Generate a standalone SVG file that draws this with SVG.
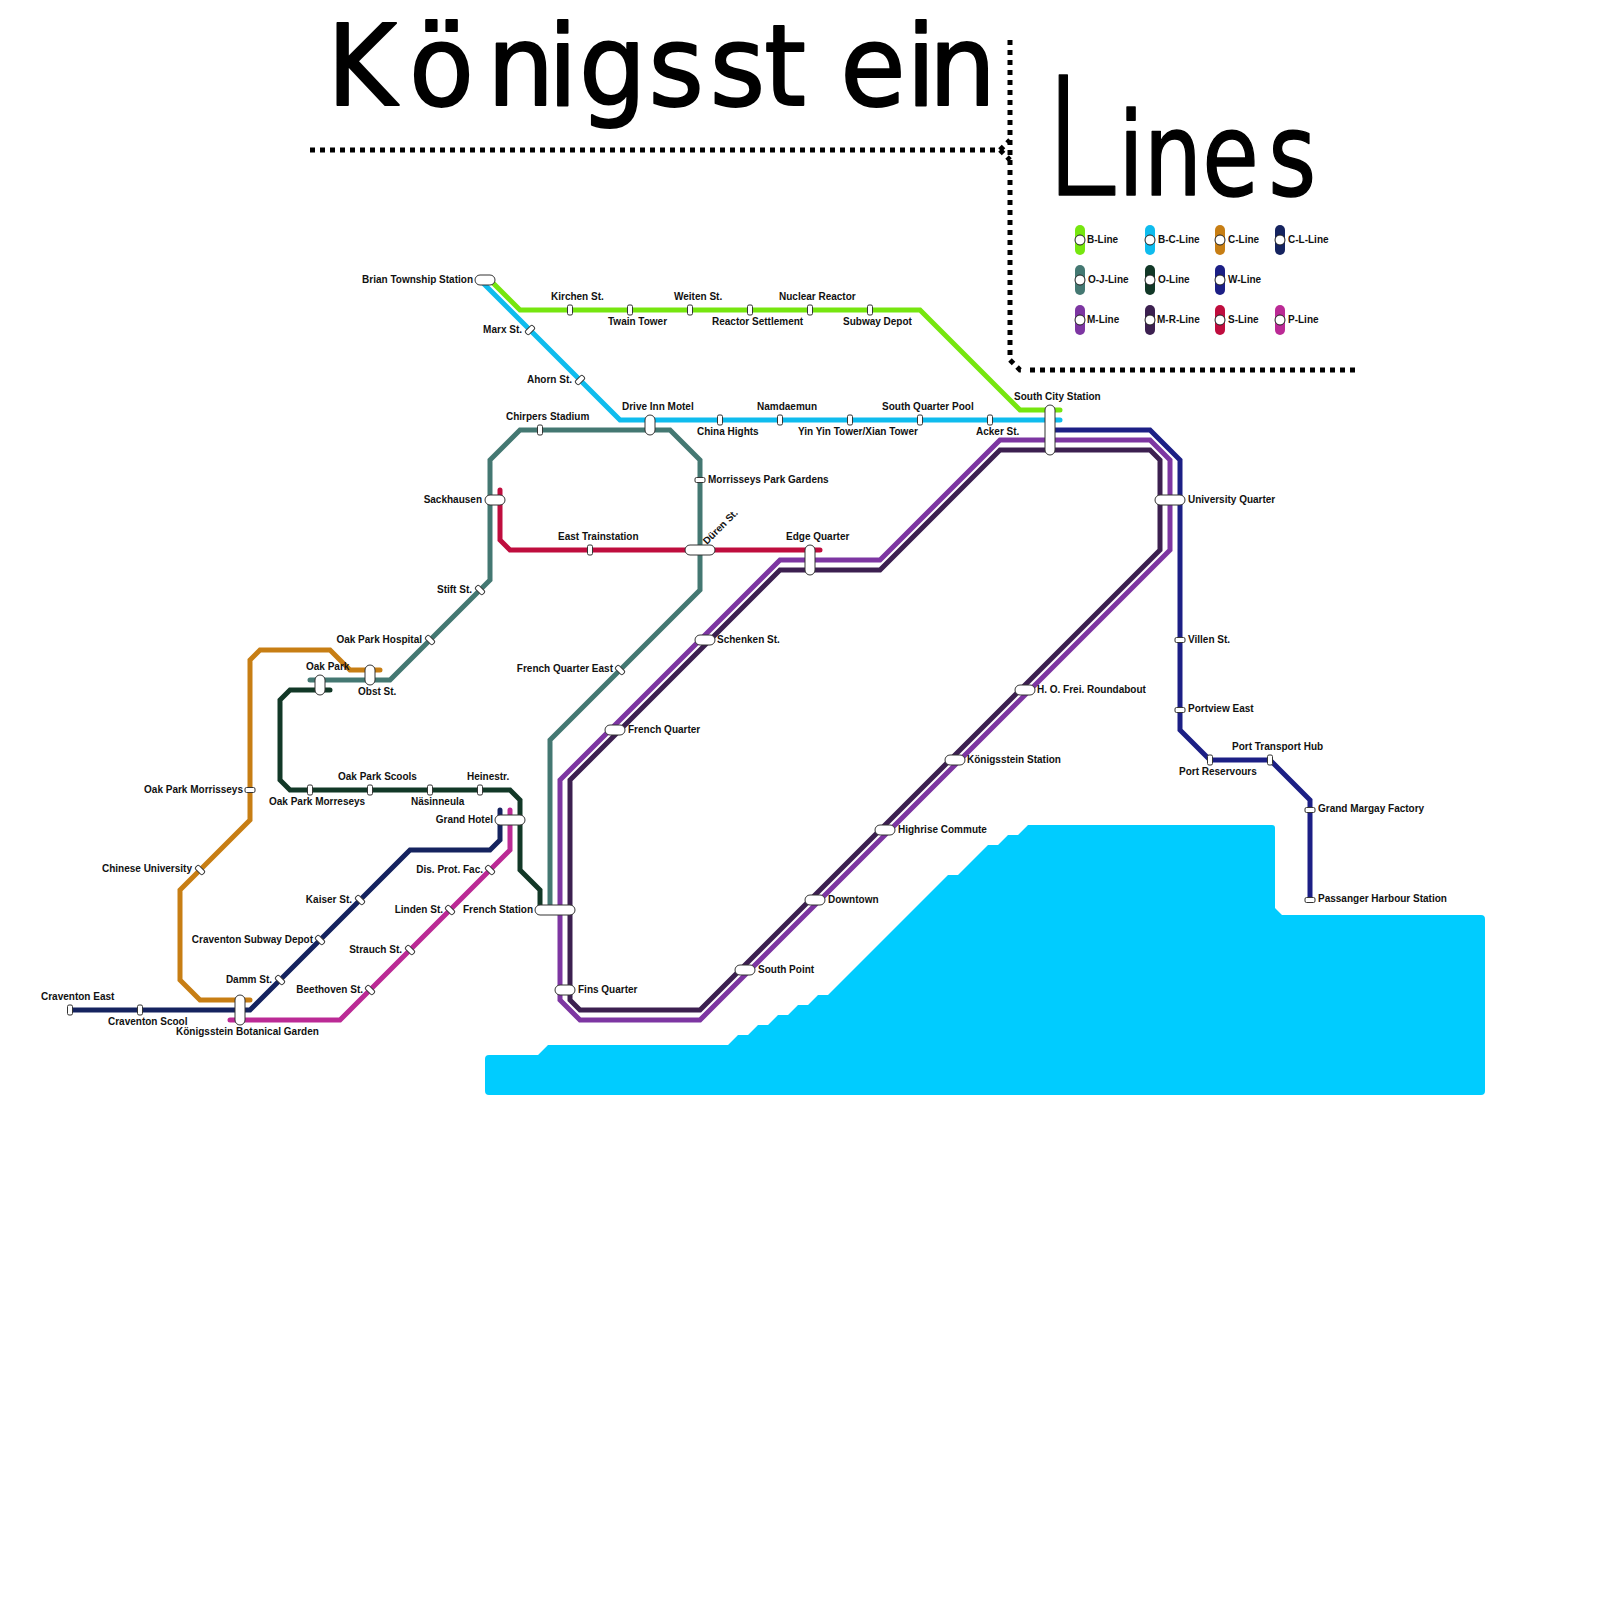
<svg xmlns="http://www.w3.org/2000/svg" width="1600" height="1600" viewBox="0 0 1600 1600">
<style>
.t{font-family:"DejaVu Sans",sans-serif;fill:#000}
.l{font-family:"Liberation Sans",Arial,sans-serif;font-size:10px;font-weight:700;fill:#111}
.e{text-anchor:end}
.line{fill:none;stroke-width:5;stroke-linecap:round;stroke-linejoin:miter}
.c,.s{fill:#fff;stroke:#333;stroke-width:1}
.k{fill:#fff;stroke:#222;stroke-width:1}
.d{fill:none;stroke:#000;stroke-width:5;stroke-dasharray:5 5}
</style>
<defs>
<rect id="sv" class="s" x="-2.5" y="-5" width="5" height="10" rx="1.5"/>
<rect id="sh" class="s" x="-5" y="-2.5" width="10" height="5" rx="1.5"/>
</defs>
<path id="water" fill="#00ccff" d="M489,1055H538L548,1045H728L738,1035H748L758,1025H768L778,1015H788L798,1005H808L818,995H828L948,875H958L988,845H998L1008,835H1018L1028,825H1272Q1275,825 1275,828V908L1282,915H1481Q1485,915 1485,919V1091Q1485,1095 1481,1095H489Q485,1095 485,1091V1059Q485,1055 489,1055Z"/>
<g id="title">
<text class="t" font-size="113" stroke="#000" stroke-width="2" stroke-linejoin="round" transform="translate(0 105) scale(.94 1)" x="348 435 518 583 616 690 755 813 894 964 988" y="0">Königsstein</text>
<text class="t" stroke="#000" stroke-width="1.5" stroke-linejoin="round" transform="translate(1047 195) scale(.8 1)"><tspan font-family="Roboto,sans-serif" font-weight="300" font-size="169">L</tspan><tspan font-size="115">ine</tspan><tspan font-size="115" dx="12">s</tspan></text>
</g>
<g id="dots">
<path class="d" d="M310,150H1000L1010,140"/>
<path class="d" d="M1000,150L1010,160"/>
<path class="d" d="M1010,40V360L1020,370H1021"/>
<path class="d" d="M1030,370H1355"/>
</g>
<g id="connectors">
<path id="l-b" class="line" stroke="#76e60f" d="M490,280L520,310H920L1020,410H1060"/>
<path id="l-bc" class="line" stroke="#0fbcee" d="M480,280L620,420H1060"/>
<path id="l-oj" class="line" stroke="#447872" d="M550,910V740L700,590V460L670,430H520L490,460V580L390,680H310"/>
<path id="l-c" class="line" stroke="#c77e14" d="M250,1000H200L180,980V890L250,820V660L260,650H330L350,670H380"/>
<path id="l-o" class="line" stroke="#123827" d="M330,690H290L280,700V780L290,790H510L520,800V870L540,890V910"/>
<path id="l-cl" class="line" stroke="#15235f" d="M70,1010H250L410,850H490L500,840V810"/>
<path id="l-p" class="line" stroke="#bb2a95" d="M230,1020H340L510,850V810"/>
<path id="l-s" class="line" stroke="#bf0d3e" d="M500,490V540L510,550H820"/>
<path id="l-w" class="line" stroke="#1c1f85" d="M1050,430H1150L1180,460V730L1210,760H1270L1310,800V900"/>
<path id="l-m" class="line" stroke="#7d36a2" d="M560,780L780,560H880L1000,440H1150L1170,460V550L700,1020H580L560,1000Z"/>
<path id="l-mr" class="line" stroke="#3c2050" d="M570,780L780,570H880L1000,450H1150L1160,460V550L700,1010H580L570,1000Z"/>
</g>
<g id="n-brian"><rect class="c" x="475" y="275" width="20" height="10" rx="5"/><text class="l e" x="473" y="283">Brian Township Station</text></g>
<g id="n-kirchen"><use href="#sv" x="570" y="310"/><text class="l" x="551" y="300">Kirchen St.</text></g>
<g id="n-twain"><use href="#sv" x="630" y="310"/><text class="l" x="608" y="325">Twain Tower</text></g>
<g id="n-weiten"><use href="#sv" x="690" y="310"/><text class="l" x="674" y="300">Weiten St.</text></g>
<g id="n-reactor"><use href="#sv" x="750" y="310"/><text class="l" x="712" y="325">Reactor Settlement</text></g>
<g id="n-nuclear"><use href="#sv" x="810" y="310"/><text class="l" x="779" y="300">Nuclear Reactor</text></g>
<g id="n-subway"><use href="#sv" x="870" y="310"/><text class="l" x="843" y="325">Subway Depot</text></g>
<g id="n-marx"><use href="#sv" transform="translate(530 330) rotate(45)"/><text class="l e" x="522" y="333">Marx St.</text></g>
<g id="n-ahorn"><use href="#sv" transform="translate(580 380) rotate(45)"/><text class="l e" x="572" y="383">Ahorn St.</text></g>
<g id="n-driveinn"><rect class="c" x="645" y="415" width="10" height="20" rx="5"/><text class="l" x="622" y="410">Drive Inn Motel</text></g>
<g id="n-chirpers"><use href="#sv" x="540" y="430"/><text class="l" x="506" y="420">Chirpers Stadium</text></g>
<g id="n-china"><use href="#sv" x="720" y="420"/><text class="l" x="697" y="435">China Hights</text></g>
<g id="n-namdaemun"><use href="#sv" x="780" y="420"/><text class="l" x="757" y="410">Namdaemun</text></g>
<g id="n-yinyin"><use href="#sv" x="850" y="420"/><text class="l" x="798" y="435">Yin Yin Tower/Xian Tower</text></g>
<g id="n-southquarter"><use href="#sv" x="920" y="420"/><text class="l" x="882" y="410">South Quarter Pool</text></g>
<g id="n-acker"><use href="#sv" x="990" y="420"/><text class="l" x="976" y="435">Acker St.</text></g>
<g id="n-southcity"><rect class="c" x="1045" y="405" width="10" height="50" rx="5"/><text class="l" x="1014" y="400">South City Station</text></g>
<g id="n-morrisseys"><use href="#sh" x="700" y="480"/><text class="l" x="708" y="483">Morrisseys Park Gardens</text></g>
<g id="n-sackhausen"><rect class="c" x="485" y="495" width="20" height="10" rx="5"/><text class="l e" x="482" y="503">Sackhausen</text></g>
<g id="n-east"><use href="#sv" x="590" y="550"/><text class="l" x="558" y="540">East Trainstation</text></g>
<g id="n-duren"><rect class="c" x="685" y="545" width="30" height="10" rx="5"/><text class="l" transform="translate(707 545) rotate(-45)">Düren St.</text></g>
<g id="n-edge"><rect class="c" x="805" y="545" width="10" height="30" rx="5"/><text class="l" x="786" y="540">Edge Quarter</text></g>
<g id="n-stift"><use href="#sv" transform="translate(480 590) rotate(-45)"/><text class="l e" x="472" y="593">Stift St.</text></g>
<g id="n-hospital"><use href="#sv" transform="translate(430 640) rotate(-45)"/><text class="l e" x="422" y="643">Oak Park Hospital</text></g>
<g id="n-oakpark"><rect class="c" x="315" y="675" width="10" height="20" rx="5"/><text class="l" x="306" y="670">Oak Park</text></g>
<g id="n-obst"><rect class="c" x="365" y="665" width="10" height="20" rx="5"/><text class="l" x="358" y="695">Obst St.</text></g>
<g id="n-fqeast"><use href="#sv" transform="translate(620 670) rotate(-45)"/><text class="l e" x="613" y="672">French Quarter East</text></g>
<g id="n-schenken"><rect class="c" x="695" y="635" width="20" height="10" rx="5"/><text class="l" x="717" y="643">Schenken St.</text></g>
<g id="n-fq"><rect class="c" x="605" y="725" width="20" height="10" rx="5"/><text class="l" x="628" y="733">French Quarter</text></g>
<g id="n-opm"><use href="#sh" x="250" y="790"/><text class="l e" x="243" y="793">Oak Park Morrisseys</text></g>
<g id="n-chinese"><use href="#sv" transform="translate(200 870) rotate(-45)"/><text class="l e" x="192" y="872">Chinese University</text></g>
<g id="n-morreseys"><use href="#sv" x="310" y="790"/><text class="l" x="269" y="805">Oak Park Morreseys</text></g>
<g id="n-scools"><use href="#sv" x="370" y="790"/><text class="l" x="338" y="780">Oak Park Scools</text></g>
<g id="n-nasinneula"><use href="#sv" x="430" y="790"/><text class="l" x="411" y="805">Näsinneula</text></g>
<g id="n-heinestr"><use href="#sv" x="480" y="790"/><text class="l" x="467" y="780">Heinestr.</text></g>
<g id="n-grandhotel"><rect class="c" x="495" y="815" width="30" height="10" rx="5"/><text class="l e" x="493" y="823">Grand Hotel</text></g>
<g id="n-disprot"><use href="#sv" transform="translate(490 870) rotate(-45)"/><text class="l e" x="483" y="873">Dis. Prot. Fac.</text></g>
<g id="n-linden"><use href="#sv" transform="translate(450 910) rotate(-45)"/><text class="l e" x="443" y="913">Linden St.</text></g>
<g id="n-strauch"><use href="#sv" transform="translate(410 950) rotate(-45)"/><text class="l e" x="402" y="953">Strauch St.</text></g>
<g id="n-beethoven"><use href="#sv" transform="translate(370 990) rotate(-45)"/><text class="l e" x="363" y="993">Beethoven St.</text></g>
<g id="n-kaiser"><use href="#sv" transform="translate(360 900) rotate(-45)"/><text class="l e" x="352" y="903">Kaiser St.</text></g>
<g id="n-depot"><use href="#sv" transform="translate(320 940) rotate(-45)"/><text class="l e" x="313" y="943">Craventon Subway Depot</text></g>
<g id="n-damm"><use href="#sv" transform="translate(280 980) rotate(-45)"/><text class="l e" x="272" y="983">Damm St.</text></g>
<g id="n-frenchst"><rect class="c" x="535" y="905" width="40" height="10" rx="5"/><text class="l e" x="533" y="913">French Station</text></g>
<g id="n-botanical"><rect class="c" x="235" y="995" width="10" height="30" rx="5"/><text class="l" x="176" y="1035">Königsstein Botanical Garden</text></g>
<g id="n-cravent"><use href="#sv" x="70" y="1010"/><text class="l" x="41" y="1000">Craventon East</text></g>
<g id="n-scool"><use href="#sv" x="140" y="1010"/><text class="l" x="108" y="1025">Craventon Scool</text></g>
<g id="n-fins"><rect class="c" x="555" y="985" width="20" height="10" rx="5"/><text class="l" x="578" y="993">Fins Quarter</text></g>
<g id="n-southpoint"><rect class="c" x="735" y="965" width="20" height="10" rx="5"/><text class="l" x="758" y="973">South Point</text></g>
<g id="n-downtown"><rect class="c" x="805" y="895" width="20" height="10" rx="5"/><text class="l" x="828" y="903">Downtown</text></g>
<g id="n-highrise"><rect class="c" x="875" y="825" width="20" height="10" rx="5"/><text class="l" x="898" y="833">Highrise Commute</text></g>
<g id="n-konigsst"><rect class="c" x="945" y="755" width="20" height="10" rx="5"/><text class="l" x="967" y="763">Königsstein Station</text></g>
<g id="n-hofrei"><rect class="c" x="1015" y="685" width="20" height="10" rx="5"/><text class="l" x="1037" y="693">H. O. Frei. Roundabout</text></g>
<g id="n-university"><rect class="c" x="1155" y="495" width="30" height="10" rx="5"/><text class="l" x="1188" y="503">University Quarter</text></g>
<g id="n-villen"><use href="#sh" x="1180" y="640"/><text class="l" x="1188" y="643">Villen St.</text></g>
<g id="n-portview"><use href="#sh" x="1180" y="710"/><text class="l" x="1188" y="712">Portview East</text></g>
<g id="n-portres"><use href="#sv" x="1210" y="760"/><text class="l" x="1179" y="775">Port Reservours</text></g>
<g id="n-porthub"><use href="#sv" x="1270" y="760"/><text class="l" x="1232" y="750">Port Transport Hub</text></g>
<g id="n-margay"><use href="#sh" x="1310" y="810"/><text class="l" x="1318" y="812">Grand Margay Factory</text></g>
<g id="n-passanger"><use href="#sh" x="1310" y="900"/><text class="l" x="1318" y="902">Passanger Harbour Station</text></g>
<g id="legend">
<g id="lg-b"><rect x="1075" y="225" width="10" height="30" rx="5" fill="#76e60f"/><circle class="k" cx="1080" cy="240" r="5"/><text class="l" x="1087" y="243">B-Line</text></g>
<g id="lg-bc"><rect x="1145" y="225" width="10" height="30" rx="5" fill="#0fbcee"/><circle class="k" cx="1150" cy="240" r="5"/><text class="l" x="1158" y="243">B-C-Line</text></g>
<g id="lg-c"><rect x="1215" y="225" width="10" height="30" rx="5" fill="#c77e14"/><circle class="k" cx="1220" cy="240" r="5"/><text class="l" x="1228" y="243">C-Line</text></g>
<g id="lg-cl"><rect x="1275" y="225" width="10" height="30" rx="5" fill="#15235f"/><circle class="k" cx="1280" cy="240" r="5"/><text class="l" x="1288" y="243">C-L-Line</text></g>
<g id="lg-oj"><rect x="1075" y="265" width="10" height="30" rx="5" fill="#447872"/><circle class="k" cx="1080" cy="280" r="5"/><text class="l" x="1088" y="283">O-J-Line</text></g>
<g id="lg-o"><rect x="1145" y="265" width="10" height="30" rx="5" fill="#123827"/><circle class="k" cx="1150" cy="280" r="5"/><text class="l" x="1158" y="283">O-Line</text></g>
<g id="lg-w"><rect x="1215" y="265" width="10" height="30" rx="5" fill="#1c1f85"/><circle class="k" cx="1220" cy="280" r="5"/><text class="l" x="1228" y="283">W-Line</text></g>
<g id="lg-m"><rect x="1075" y="305" width="10" height="30" rx="5" fill="#7d36a2"/><circle class="k" cx="1080" cy="320" r="5"/><text class="l" x="1087" y="323">M-Line</text></g>
<g id="lg-mr"><rect x="1145" y="305" width="10" height="30" rx="5" fill="#3c2050"/><circle class="k" cx="1150" cy="320" r="5"/><text class="l" x="1157" y="323">M-R-Line</text></g>
<g id="lg-s"><rect x="1215" y="305" width="10" height="30" rx="5" fill="#bf0d3e"/><circle class="k" cx="1220" cy="320" r="5"/><text class="l" x="1228" y="323">S-Line</text></g>
<g id="lg-p"><rect x="1275" y="305" width="10" height="30" rx="5" fill="#bb2a95"/><circle class="k" cx="1280" cy="320" r="5"/><text class="l" x="1288" y="323">P-Line</text></g>
</g>
</svg>
